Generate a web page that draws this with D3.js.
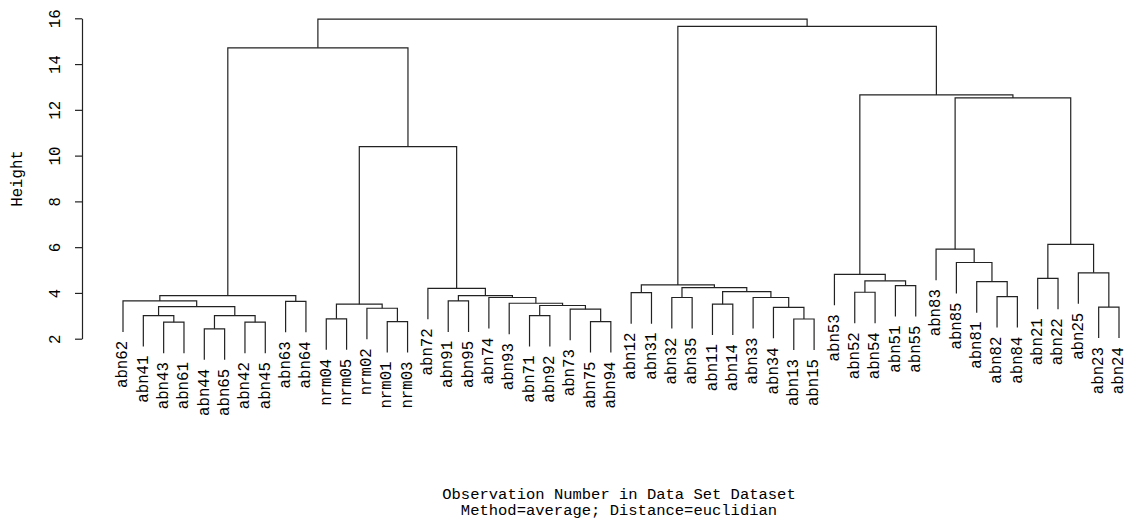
<!DOCTYPE html>
<html>
<head>
<meta charset="utf-8">
<script src="https://cdn.jsdelivr.net/npm/d3@7"></script>
<style>
  html, body { margin: 0; padding: 0; background: #fff; }
  svg { display: block; }
  text { font-family: "Liberation Mono", "DejaVu Sans Mono", monospace; fill: #000; }
</style>
</head>
<body>
<script>
// hclust merge table: a string is a leaf, a number is an earlier row (0-based)
const merges = [
  ["abn44", "abn65"],  // 0
  ["abn43", "abn61"],  // 1
  ["abn42", "abn45"],  // 2
  ["nrm01", "nrm03"],  // 3
  ["abn75", "abn94"],  // 4
  ["abn13", "abn15"],  // 5
  ["nrm04", "nrm05"],  // 6
  ["abn41", 1],        // 7
  [0, 2],              // 8
  ["abn71", "abn92"],  // 9
  ["abn73", 4],        // 10
  ["nrm02", 3],        // 11
  ["abn34", 5],        // 12
  ["abn23", "abn24"],  // 13
  [7, 8],              // 14
  [9, 10],             // 15
  [6, 11],             // 16
  ["abn11", "abn14"],  // 17
  ["abn93", 15],       // 18
  ["abn63", "abn64"],  // 19
  ["abn62", 14],       // 20
  ["abn91", "abn95"],  // 21
  ["abn74", 18],       // 22
  ["abn32", "abn35"],  // 23
  ["abn33", 12],       // 24
  ["abn82", "abn84"],  // 25
  [20, 19],            // 26
  [21, 22],            // 27
  ["abn12", "abn31"],  // 28
  ["abn52", "abn54"],  // 29
  [17, 24],            // 30
  ["abn72", 27],       // 31
  [23, 30],            // 32
  ["abn51", "abn55"],  // 33
  [28, 32],            // 34
  ["abn81", 25],       // 35
  [29, 33],            // 36
  ["abn21", "abn22"],  // 37
  ["abn53", 36],       // 38
  ["abn25", 13],       // 39
  ["abn85", 35],       // 40
  ["abn83", 40],       // 41
  [37, 39],            // 42
  [16, 31],            // 43
  [41, 42],            // 44
  [38, 44],            // 45
  [26, 43],            // 46
  [34, 45],            // 47
  [46, 47]             // 48
];
const heights = [
  2.43, 2.72, 2.72, 2.75, 2.75, 2.86, 2.87, 3.01, 3.01, 3.01,
  3.29, 3.33, 3.37, 3.38, 3.40, 3.45, 3.51, 3.51, 3.55, 3.63,
  3.65, 3.65, 3.80, 3.80, 3.80, 3.84, 3.88, 3.88, 4.01, 4.03,
  4.06, 4.20, 4.23, 4.32, 4.35, 4.49, 4.53, 4.64, 4.81, 4.88,
  5.33, 5.91, 6.12, 10.39, 12.52, 12.65, 14.71, 15.65, 15.96
];
const yTicks = [2, 4, 6, 8, 10, 12, 14, 16];
const yTitle = "Height";
const xTitle = ["Observation Number in Data Set Dataset", "Method=average; Distance=euclidian"];

const width = 1128, height = 526;
const svg = d3.select('body').append('svg')
    .attr('width', width)
    .attr('height', height);

// build the tree from the merge table
const build = ref => typeof ref === 'string'
    ? {name: ref}
    : {h: heights[ref], children: merges[ref].map(build)};
const root = d3.hierarchy(build(merges.length - 1));
const leaves = root.leaves();

const x = d3.scaleLinear().domain([0, leaves.length - 1]).range([123, 1119]);
const y = d3.scaleLinear().domain([2, 16]).range([338.7, 18.3]);
const hang = 0.1 * (d3.max(heights) - d3.min(heights));

leaves.forEach((l, i) => l.px = x(i));
root.eachAfter(n => {
    if (n.children) n.px = d3.mean(n.children, c => c.px);
});
const topOf = n => n.children ? n.data.h : n.parent.data.h - hang;

// branches
svg.append('g')
    .attr('fill', 'none')
    .attr('stroke', '#222')
    .attr('stroke-width', 1.2)
    .selectAll('path')
    .data(root.descendants().filter(n => n.children))
    .enter().append('path')
    .attr('d', n => {
        const [a, b] = n.children;
        return `M${a.px},${y(topOf(a))}V${y(n.data.h)}H${b.px}V${y(topOf(b))}`;
    });

// leaf labels
svg.append('g')
    .selectAll('text')
    .data(leaves)
    .enter().append('text')
    .attr('transform', d => `translate(${d.px},${y(topOf(d)) + 9}) rotate(-90)`)
    .attr('text-anchor', 'end')
    .attr('dy', '0.27em')
    .style('font-size', '15.7px')
    .text(d => d.data.name);

// y axis
const yAxis = d3.axisLeft(y).tickValues(yTicks).tickSize(7).tickSizeOuter(0);
svg.append('g')
    .attr('transform', 'translate(82,0)')
    .call(yAxis)
    .call(g => g.selectAll('path, line').attr('stroke', '#222').attr('stroke-width', 1.2))
    .call(g => g.selectAll('.tick text')
        .attr('transform', 'rotate(-90)')
        .attr('x', 0)
        .attr('y', -22)
        .attr('dy', 0)
        .attr('text-anchor', 'middle')
        .style('font-family', '"Liberation Mono", monospace')
        .style('font-size', '15.7px'));

svg.append('text')
    .attr('transform', `translate(16,${(y(2) + y(16)) / 2}) rotate(-90)`)
    .attr('text-anchor', 'middle')
    .attr('dy', '0.35em')
    .style('font-size', '15.7px')
    .text(yTitle);

const midX = (x.range()[0] + x.range()[1]) / 2;
svg.append('g')
    .selectAll('text')
    .data(xTitle)
    .enter().append('text')
    .attr('x', midX - 2)
    .attr('y', (d, i) => 499 + i * 16)
    .attr('text-anchor', 'middle')
    .style('font-size', '15.5px')
    .text(d => d);
</script>
</body>
</html>
